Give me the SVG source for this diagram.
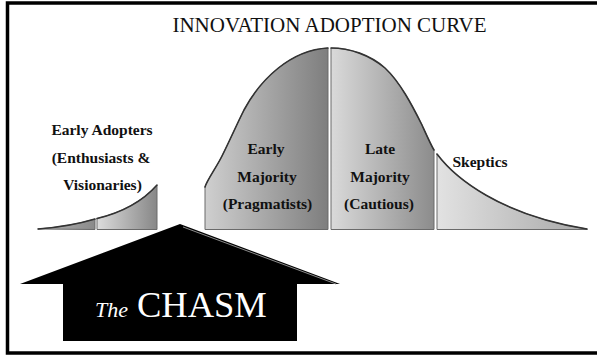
<svg xmlns="http://www.w3.org/2000/svg" width="597" height="356" viewBox="0 0 597 356">
  <style>
    .title { font-family: "Liberation Serif", "Times New Roman", serif; font-size: 21px; fill: #111; }
    .lbl { font-family: "Liberation Serif", "Times New Roman", serif; font-size: 15.5px; font-weight: 700; fill: #111; text-anchor: middle; }
    .seg { stroke: #6a6a6a; stroke-width: 1; }
    .top { fill: none; stroke: #333; stroke-width: 1.6; stroke-linecap: round; }
    .chasm { font-family: "Liberation Serif", "Times New Roman", serif; fill: #fff; }
  </style>
  <defs>
    <linearGradient id="gInn" x1="0" y1="0" x2="1" y2="0">
      <stop offset="0" stop-color="#b5b5b5"/>
      <stop offset="1" stop-color="#8a8a8a"/>
    </linearGradient>
    <linearGradient id="gEA" x1="0" y1="0" x2="1" y2="0">
      <stop offset="0" stop-color="#dcdcdc"/>
      <stop offset="1" stop-color="#878787"/>
    </linearGradient>
    <linearGradient id="gEM" x1="0" y1="0" x2="1" y2="0">
      <stop offset="0" stop-color="#cfcfcf"/>
      <stop offset="1" stop-color="#7e7e7e"/>
    </linearGradient>
    <linearGradient id="gLM" x1="0" y1="0" x2="1" y2="0">
      <stop offset="0" stop-color="#dadada"/>
      <stop offset="1" stop-color="#8c8c8c"/>
    </linearGradient>
    <linearGradient id="gSK" x1="0" y1="0" x2="1" y2="0">
      <stop offset="0" stop-color="#e2e2e2"/>
      <stop offset="1" stop-color="#a8a8a8"/>
    </linearGradient>
  </defs>

  <rect id="frame" x="7.5" y="3" width="594" height="350" fill="#fff" stroke="#000" stroke-width="3.5"/>

  <text id="title" class="title" x="329.5" y="32" text-anchor="middle">INNOVATION ADOPTION CURVE</text>

  <g id="innovators">
    <path class="seg" fill="url(#gInn)" d="M38,229 Q70,226.5 95,219 L95,229.5 Z"/>
    <path class="top" d="M38,229 Q70,226.5 95,219"/>
  </g>

  <g id="early-adopters">
    <path class="seg" fill="url(#gEA)" d="M97,218.5 C120,213 142,202 157,185 L157,229.5 L97,229.5 Z"/>
    <path class="top" d="M97,218.5 C120,213 142,202 157,185"/>
    <text class="lbl" x="102" y="135">Early Adopters</text>
    <text class="lbl" x="101" y="162.5">(Enthusiasts &amp;</text>
    <text class="lbl" x="102.5" y="189.5">Visionaries)</text>
  </g>

  <g id="early-majority">
    <path class="seg" fill="url(#gEM)" d="M205,229.5 L205,187 C207,180 216,168 222,156 C230,140 236,126 244,110 C260,80 290,50 328,48 L328,229.5 Z"/>
    <path class="top" d="M205,187 C207,180 216,168 222,156 C230,140 236,126 244,110 C260,80 290,50 328,48"/>
    <text class="lbl" x="266" y="154">Early</text>
    <text class="lbl" x="267" y="182">Majority</text>
    <text class="lbl" x="267.5" y="209">(Pragmatists)</text>
  </g>

  <g id="late-majority">
    <path class="seg" fill="url(#gLM)" d="M331,229.5 L331,48 C350,48 370,55 385,68 C400,82 412,105 422,125 C427,136 431,145 434,150 L434,229.5 Z"/>
    <path class="top" d="M331,48 C350,48 370,55 385,68 C400,82 412,105 422,125 C427,136 431,145 434,150"/>
    <text class="lbl" x="380" y="154">Late</text>
    <text class="lbl" x="380" y="182">Majority</text>
    <text class="lbl" x="379" y="209">(Cautious)</text>
  </g>

  <g id="skeptics">
    <path class="seg" fill="url(#gSK)" d="M437,229.5 L437,154 C455,178 500,215 587,229 L587,229.5 Z"/>
    <path class="top" d="M437,154 C455,178 500,215 587,229"/>
    <text class="lbl" x="480" y="167">Skeptics</text>
  </g>

  <g id="chasm">
    <polygon points="180,224 340,284 297,284 297,341 63,341 63,284 20,284" fill="#000"/>
    <line x1="183" y1="227" x2="336" y2="284" stroke="#8a8a8a" stroke-width="1"/>
    <text class="chasm" x="95" y="317" font-size="22" font-style="italic">The</text>
    <text class="chasm" x="137" y="317" font-size="36.5">CHASM</text>
  </g>

  <g id="connectors"/>
</svg>
